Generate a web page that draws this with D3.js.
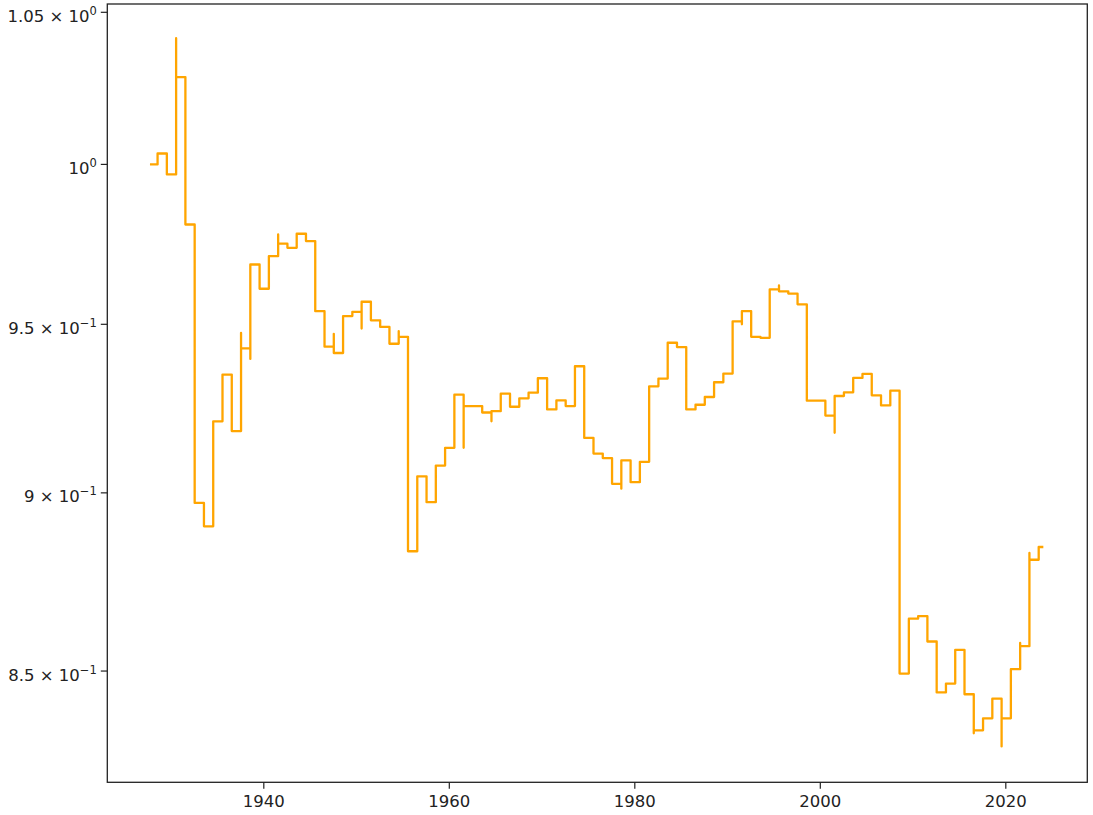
<!DOCTYPE html>
<html>
<head>
<meta charset="utf-8">
<script src="https://cdn.jsdelivr.net/npm/d3@7"></script>
<style>
  body { margin: 0; background: #fff; }
  svg { display: block; }
  text { font-family: "DejaVu Sans", sans-serif; fill: #222; }
</style>
</head>
<body>
<div id="chart"></div>
<script>
// one value per year, each holding from the yearly reset (~early August) to the next
const firstYear = 1927;
const firstDate = 1927.78;
const lastDate = 2024.1;
const resetFraction = 0.6;

const values = [
  1.0,                                                                           // 1927
  1.0035, 0.9968, 1.0284, 0.9809, 0.8971, 0.8904, 0.9209, 0.9348, 0.918, 0.9427, // 1928-1937
  0.9684, 0.9609, 0.971, 0.9749, 0.9736, 0.978, 0.9757, 0.954, 0.9432, 0.9413,   // 1938-1947
  0.9525, 0.9538, 0.9569, 0.9512, 0.9492, 0.9441, 0.9462, 0.8833, 0.9048, 0.8973, // 1948-1957
  0.9079, 0.9131, 0.9288, 0.9254, 0.9254, 0.9235, 0.9239, 0.9291, 0.9252, 0.9277, // 1958-1967
  0.9294, 0.9337, 0.9244, 0.9271, 0.9254, 0.9373, 0.916, 0.9114, 0.9101, 0.9026,  // 1968-1977
  0.9094, 0.9031, 0.909, 0.9313, 0.9336, 0.9444, 0.9431, 0.9244, 0.9258, 0.9281,  // 1978-1987
  0.9325, 0.9351, 0.9509, 0.954, 0.9462, 0.9459, 0.9607, 0.9601, 0.9594, 0.9561,  // 1988-1997
  0.927, 0.927, 0.9226, 0.9284, 0.9295, 0.9338, 0.935, 0.9286, 0.9256, 0.93,      // 1998-2007
  0.8493, 0.8644, 0.8651, 0.8581, 0.8442, 0.8466, 0.8558, 0.8437, 0.834, 0.8372,  // 2008-2017
  0.8425, 0.8372, 0.8505, 0.8568, 0.8809, 0.8845                                  // 2018-2023
];

// momentary values right at a reset, before settling to the year's value
const spikeYears  = [1930, 1937, 1938, 1941, 1947, 1950, 1954, 1961, 1964, 1978, 1991, 1995, 2001, 2016, 2019, 2021, 2022];
const spikeValues = [1.0413, 0.9474, 0.9395, 0.9778, 0.9471, 0.9487, 0.9479, 0.9131, 0.9209, 0.9012, 0.95, 0.9619, 0.9175, 0.8332, 0.8297, 0.8577, 0.8828];

const xTicks = [1940, 1960, 1980, 2000, 2020];
const yTicks = [0.85, 0.9, 0.95, 1.0, 1.05];
const yTickMantissa = ["8.5", "9", "9.5", "", "1.05"];
const yTickExponent = ["\u22121", "\u22121", "\u22121", "0", "0"];

const width = 1093;
const height = 815;
const margin = { top: 4, right: 5.7, bottom: 32.7, left: 107.3 };

const points = [];
values.forEach((v, i) => {
  const year = firstYear + i;
  const date = i === 0 ? firstDate : year + resetFraction;
  const s = spikeYears.indexOf(year);
  if (s >= 0) points.push([date, spikeValues[s]]);
  points.push([date, v]);
});
points.push([lastDate, values[values.length - 1]]);

const svg = d3
  .select("#chart")
  .append("svg")
  .attr("width", width)
  .attr("height", height);

const x = d3
  .scaleLinear()
  .domain([1923.18, 2028.84])
  .range([margin.left, width - margin.right]);

const y = d3
  .scaleLog()
  .domain([0.8202, 1.0528])
  .range([height - margin.bottom, margin.top]);

const line = d3
  .line()
  .x((d) => x(d[0]))
  .y((d) => y(d[1]))
  .curve(d3.curveStepAfter);

svg
  .append("path")
  .datum(points)
  .attr("d", line)
  .attr("fill", "none")
  .attr("stroke", "#FFA500")
  .attr("stroke-width", 2.3)
  .attr("stroke-linejoin", "round");

// axes frame
svg
  .append("rect")
  .attr("x", margin.left)
  .attr("y", margin.top)
  .attr("width", width - margin.left - margin.right)
  .attr("height", height - margin.top - margin.bottom)
  .attr("fill", "none")
  .attr("stroke", "#222")
  .attr("stroke-width", 1.3);

// x axis
const xAxis = svg
  .append("g")
  .attr("transform", `translate(0,${height - margin.bottom})`)
  .call(d3.axisBottom(x).tickValues(xTicks).tickFormat(d3.format("d")).tickSize(6.5).tickPadding(6));
xAxis.select(".domain").remove();
xAxis.selectAll("line").attr("stroke", "#222").attr("stroke-width", 1.2);
xAxis.selectAll("text").style("font-size", "16.5px").attr("fill", "#222");

// y axis, log ticks with mathtext-like labels
const yAxis = svg.append("g");
yTicks.forEach((t, i) => {
  yAxis
    .append("line")
    .attr("x1", margin.left - 6.5)
    .attr("x2", margin.left)
    .attr("y1", y(t))
    .attr("y2", y(t))
    .attr("stroke", "#222")
    .attr("stroke-width", 1.2);
  const label = yAxis
    .append("text")
    .attr("x", margin.left - 10.5)
    .attr("y", y(t) + 9.5)
    .attr("text-anchor", "end")
    .style("font-size", "16.5px");
  label.append("tspan").text(yTickMantissa[i] ? yTickMantissa[i] + " \u00d7 10" : "10");
  label.append("tspan").attr("dy", -7).style("font-size", "11.5px").text(yTickExponent[i]);
});
</script>
</body>
</html>
